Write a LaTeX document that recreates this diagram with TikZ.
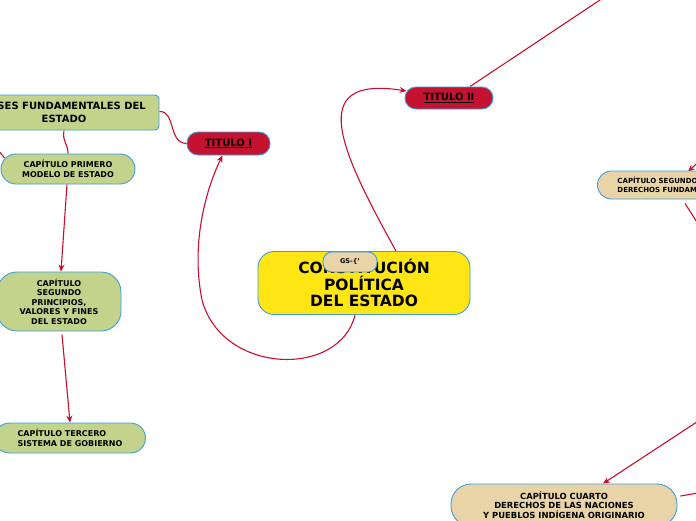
\documentclass[tikz,border=0pt]{standalone}
\usepackage{fontspec}
\setmainfont{DejaVu Sans}
\usetikzlibrary{arrows.meta,calc}
\pgfdeclarelayer{background}
\pgfsetlayers{background,main}
\definecolor{linkred}{RGB}{200,16,46}
\definecolor{titred}{RGB}{196,18,48}
\definecolor{boxgreen}{RGB}{195,211,140}
\definecolor{boxtan}{RGB}{232,212,166}
\definecolor{boxyellow}{RGB}{255,229,20}
\definecolor{boxborder}{RGB}{59,160,220}
\newcommand{\fs}[2]{\fontsize{#1}{#2}\selectfont\bfseries}
\tikzset{
  x=1pt, y=-1pt,
  basebox/.style={draw=boxborder, line width=0.9pt, inner sep=0pt, align=center, text=black},
  greenbox/.style={basebox, fill=boxgreen},
  tanbox/.style={basebox, fill=boxtan},
  titbox/.style={basebox, fill=titred},
  link/.style={draw=linkred, line width=1.1pt},
  linkarrow/.style={link, -{Stealth[length=7pt,width=6pt]}},
}
\begin{document}
\begin{tikzpicture}
\useasboundingbox (0,0) rectangle (696,520);
\clip (0,0) rectangle (696,520);

% nodes
\node[basebox, fill=boxyellow, minimum width=212pt, minimum height=63pt, rounded corners=16pt, font=\fs{15.5}{16.5}] (central) at (364,283)
  {CONSTITUCIÓN\\ POLÍTICA\\ DEL ESTADO};
\node[tanbox, minimum width=54pt, minimum height=20pt, rounded corners=9pt, font=\fs{6.5}{8}] (gs) at (350,262) {GS-\{'};

\node[titbox, minimum width=83pt, minimum height=23pt, rounded corners=11pt, font=\fs{10}{12}] (t1) at (228.5,143.5) {\underline{TITULO I}};
\node[titbox, minimum width=88pt, minimum height=22pt, rounded corners=11pt, font=\fs{10}{12}] (t2) at (449,98) {\underline{TITULO II}};

\node[greenbox, minimum width=190pt, minimum height=35pt, rounded corners=4pt, font=\fs{10}{13}] (bases) at (64,112.5)
  {BASES FUNDAMENTALES DEL\\ ESTADO};
\node[greenbox, minimum width=134pt, minimum height=30pt, rounded corners=15pt, font=\fs{8}{10}] (cap1) at (68,169)
  {CAPÍTULO PRIMERO\\ MODELO DE ESTADO};
\node[greenbox, minimum width=124pt, minimum height=59pt, rounded corners=20pt, font=\fs{8}{9.5}] (cap2) at (59,301.5)
  {CAPÍTULO\\ SEGUNDO\\ PRINCIPIOS,\\ VALORES Y FINES\\ DEL ESTADO};
\node[greenbox, minimum width=151pt, minimum height=30pt, rounded corners=15pt, align=left, font=\fs{8}{10}] (cap3) at (70,438)
  {CAPÍTULO TERCERO\\ SISTEMA DE GOBIERNO};

\node[tanbox, anchor=west, minimum height=28pt, rounded corners=14pt, align=left, text width=146pt, inner xsep=20pt, font=\fs{7}{8.5}] (capd) at (597,185)
  {CAPÍTULO SEGUNDO\\ DERECHOS FUNDAMENTALES};
\node[tanbox, minimum width=226pt, minimum height=42pt, rounded corners=20pt, font=\fs{8.4}{9.7}] (cap4) at (564,505)
  {CAPÍTULO CUARTO\\ DERECHOS DE LAS NACIONES\\ Y PUEBLOS INDÍGENA ORIGINARIO};

% free ends
\coordinate (offtop) at (612,-8);
\coordinate (offleft) at (-6,148);
\coordinate (offcapdin) at (704,157);
\coordinate (offcapdout) at (702,230);
\coordinate (offcap4in) at (706,416);
\coordinate (offcap4out) at (704,492);

% connectors
\begin{pgfonlayer}{background}
\fill[white] (0,0) rectangle (696,520);
\draw[linkarrow] ($(central.north)+(32,0)$) .. controls (340,150) and (305,75) .. ($(t2.west)+(2,-7)$);
\draw[linkarrow] ($(central.south)+(-9,0)$) .. controls (340,378) and (222,375) .. (202,300)
  .. controls (190,240) and (208,185) .. ($(t1.south)+(-6,0)$);
\draw[link] ($(t2.north)+(21,0)$) -- (offtop);
\draw[link] ($(bases.east)+(0,-1)$) .. controls (176,111) and (168,143) .. (t1.west);
\draw[link] (bases.south) .. controls (62,142) and (68,143) .. (cap1.north);
\draw[link] (offleft) .. controls (-1,150) and (2,155) .. ($(cap1.west)+(4,-11)$);
\draw[linkarrow] ($(cap1.south)+(-1,0)$) -- ($(cap2.north)+(2,0)$);
\draw[linkarrow] ($(cap2.south)+(3,3)$) -- (cap3.north);
\draw[linkarrow] (offcapdin) -- ($(capd.north west)+(91,1)$);
\draw[link] ($(capd.south west)+(88,4)$) -- (offcapdout);
\draw[linkarrow] (offcap4in) -- ($(cap4.north)+(39,0)$);
\draw[link] ($(cap4.east)+(3,-9)$) -- (offcap4out);
\end{pgfonlayer}
\end{tikzpicture}
\end{document}
